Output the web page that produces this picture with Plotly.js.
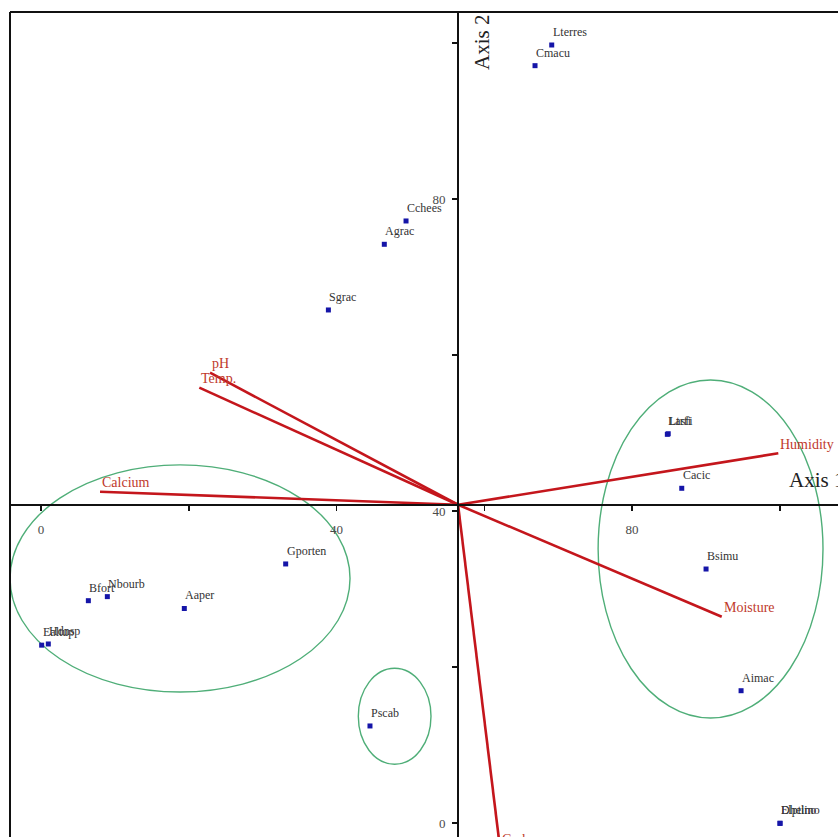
<!DOCTYPE html>
<html>
<head>
<meta charset="utf-8">
<script src="https://cdn.plot.ly/plotly-3.0.1.min.js"></script>
<style>
  html, body { margin: 0; padding: 0; background: #ffffff; }
  #plot { width: 838px; height: 837px; }
</style>
</head>
<body>
<div id="plot"></div>
<script>
// Species scores (Axis 1, Axis 2)
const species = ['Lterres', 'Cmacu', 'Cchees', 'Agrac', 'Sgrac', 'Gporten', 'Nbourb', 'Bfort', 'Aaper',
                 'Ealtup', 'Hdnsp', 'Lasfi', 'Ltrfi', 'Cacic', 'Bsimu', 'Aimac', 'Elptino', 'Dhelino', 'Pscab'];
const speciesX = [69.13, 66.87, 49.41, 46.47, 38.90, 33.12, 8.98, 6.41, 19.40,
                  0.09, 0.99, 84.78, 84.90, 86.73, 90.02, 94.76, 100.03, 100.03, 44.53];
const speciesY = [99.74, 97.09, 77.18, 74.19, 65.77, 33.21, 29.02, 28.50, 27.50,
                  22.80, 22.95, 49.83, 49.90, 42.91, 32.56, 16.96, -0.04, -0.04, 12.44];

// Environmental variables (vector tips)
const envVars = ['pH', 'Temp.', 'Calcium', 'Humidity', 'Moisture', 'Carbon'];
const envX = [22.88, 21.43, 7.99, 99.80, 92.14, 62.13];
const envY = [57.73, 55.81, 42.47, 47.40, 26.45, -3.21];

// Crossing point of the two axes, where the vectors start
const originX = 56.45;
const originY = 40.8;

// Species groups (ellipse centre and half-widths in axis units)
const groupCx = [18.82, 47.87, 90.63];
const groupCy = [31.35, 13.68, 35.13];
const groupRx = [23.01, 4.92, 15.22];
const groupRy = [14.56, 6.15, 21.67];

// Axis ticks
const xTickVals = [0, 20, 40, 60, 80, 100];
const xTickText = ['0', '', '40', '', '80', ''];
const yTickVals = [0, 20, 40, 60, 80, 100];
const yTickText = ['0', '', '40', '', '80', ''];

const xRange = [-4.196, 107.88];
const yRange = [-1.795, 103.97];

const serif = 'Liberation Serif, Times New Roman, serif';
const vecColor = '#c4161c';
const labColor = '#c0392b';

// Vectors as one broken line
const vx = [], vy = [];
envX.forEach((x, i) => { vx.push(originX, x, null); vy.push(originY, envY[i], null); });

const traces = [
  {
    type: 'scatter', mode: 'lines', x: vx, y: vy,
    line: { color: vecColor, width: 2.6 }, hoverinfo: 'skip', showlegend: false
  },
  {
    type: 'scatter', mode: 'markers', x: speciesX, y: speciesY, text: species,
    marker: { symbol: 'square', size: 5, color: '#1515a8' },
    hoverinfo: 'text', showlegend: false
  }
];

const annotations = [];
species.forEach((s, i) => {
  annotations.push({
    x: speciesX[i], y: speciesY[i], xref: 'x', yref: 'y', text: s, showarrow: false,
    xanchor: 'left', yanchor: 'middle', xshift: -1, yshift: 13,
    font: { family: serif, size: 12, color: '#333333' }
  });
});
envVars.forEach((v, i) => {
  // a tip below the visible range keeps its label on the lower edge of the axes
  const inView = envY[i] >= yRange[0];
  annotations.push({
    x: envX[i], y: inView ? envY[i] : yRange[0], xref: 'x', yref: 'y', text: v, showarrow: false,
    xanchor: 'left', yanchor: inView ? 'middle' : 'top', xshift: 0, yshift: inView ? 9 : 7,
    font: { family: serif, size: 14, color: labColor }
  });
});
// Axis names
annotations.push({
  x: 59.7, y: 100, xref: 'x', yref: 'y', text: 'Axis 2', showarrow: false, textangle: -90,
  xanchor: 'center', yanchor: 'middle', font: { family: serif, size: 21, color: '#222222' }
});
annotations.push({
  x: 101.0, y: 43.97, xref: 'x', yref: 'y', text: 'Axis 1', showarrow: false,
  xanchor: 'left', yanchor: 'middle', font: { family: serif, size: 21, color: '#222222' }
});

const shapes = groupCx.map((cx, i) => ({
  type: 'circle', xref: 'x', yref: 'y',
  x0: cx - groupRx[i], x1: cx + groupRx[i], y0: groupCy[i] - groupRy[i], y1: groupCy[i] + groupRy[i],
  line: { color: '#4fae78', width: 1.4 }, layer: 'below'
}));
// Frame along the left and top edges
shapes.push({ type: 'line', xref: 'paper', yref: 'paper', x0: 0, x1: 0, y0: 0, y1: 1, line: { color: '#111', width: 2 } });
shapes.push({ type: 'line', xref: 'paper', yref: 'paper', x0: 0, x1: 1, y0: 1, y1: 1, line: { color: '#111', width: 2 } });

const xPos = (originY - yRange[0]) / (yRange[1] - yRange[0]);
const yPos = (originX - xRange[0]) / (xRange[1] - xRange[0]);

const tickFont = { family: serif, size: 13, color: '#4a4a4a' };

const layout = {
  width: 838, height: 837,
  margin: { l: 10, r: 0, t: 12, b: 0, pad: 0 },
  paper_bgcolor: '#ffffff', plot_bgcolor: '#ffffff',
  font: { family: serif, color: '#4a4a4a' },
  showlegend: false,
  xaxis: {
    range: xRange, anchor: 'free', position: xPos,
    showgrid: false, zeroline: false, showline: true, linecolor: '#111', linewidth: 2,
    ticks: 'outside', ticklen: 5, tickwidth: 1.5, tickcolor: '#111',
    tickvals: xTickVals, ticktext: xTickText, ticklabelstandoff: 8,
    tickfont: tickFont, color: '#4a4a4a'
  },
  yaxis: {
    range: yRange, anchor: 'free', position: yPos,
    showgrid: false, zeroline: false, showline: true, linecolor: '#111', linewidth: 2,
    ticks: 'outside', ticklen: 5, tickwidth: 1.5, tickcolor: '#111',
    tickvals: yTickVals, ticktext: yTickText, ticklabelstandoff: 4,
    tickfont: tickFont, color: '#4a4a4a'
  },
  annotations: annotations,
  shapes: shapes
};

Plotly.newPlot('plot', traces, layout, { staticPlot: true });
</script>
</body>
</html>
